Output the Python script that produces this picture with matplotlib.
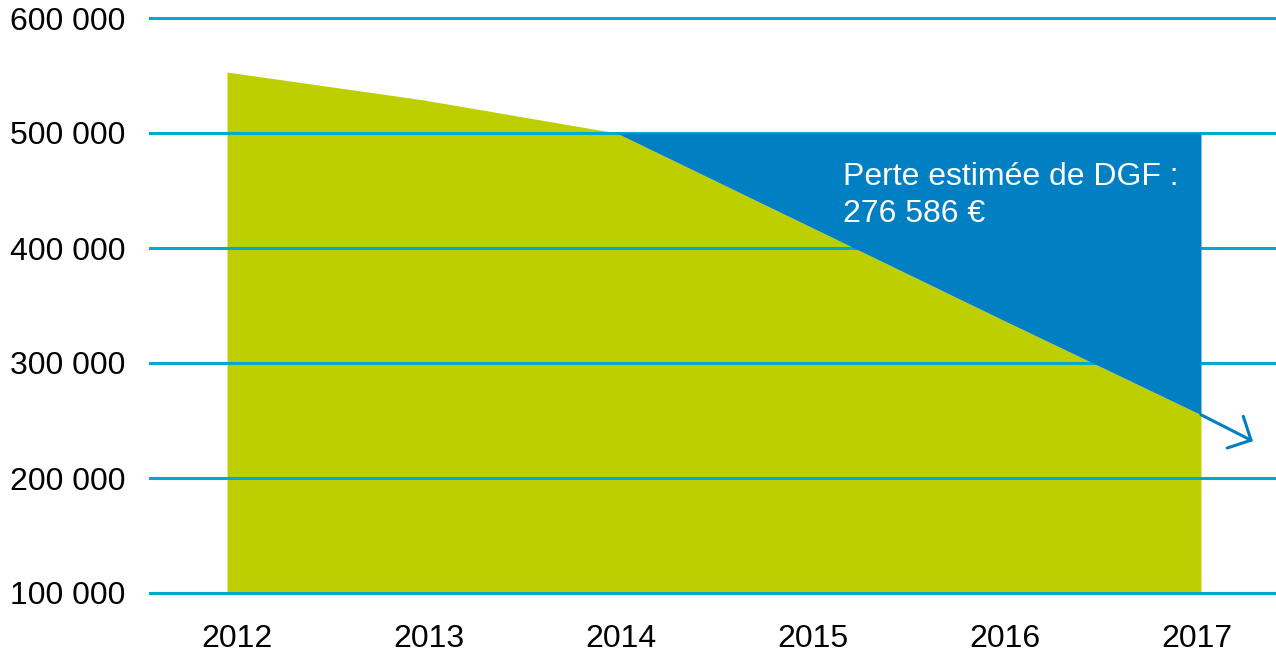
import matplotlib
matplotlib.use("Agg")
import matplotlib.pyplot as plt
import numpy as np

years = [2012, 2013, 2014, 2015, 2016, 2017]
dgf_values = [553000, 529000, 500000, 418000, 336000, 255000]
reference_level = 500000
y_ticks = [100000, 200000, 300000, 400000, 500000, 600000]
y_tick_labels = ["100 000", "200 000", "300 000", "400 000", "500 000", "600 000"]
x_tick_labels = ["2012", "2013", "2014", "2015", "2016", "2017"]
annotation_lines = ["Perte estimée de DGF :", "276 586 €"]

GREEN = "#BDCF00"
BLUE = "#0080C3"
GRID = "#00AACF"
FONT = "Liberation Sans"

plt.rcParams['font.family'] = [FONT, 'DejaVu Sans']

fig = plt.figure(figsize=(12.76, 6.55), dpi=100)
ax = fig.add_axes([150/1276, 1 - 593/655, 1 - 150/1276, (593 - 18)/655])

ax.set_xlim(2012 - 77/194.8, 2017 + 75/194.8)
ax.set_ylim(100000, 600000)

# green area (drawn below grid)
ax.fill_between(years, 100000, dgf_values, color=GREEN, linewidth=0, zorder=1)

# grid lines
for t in y_ticks:
    ax.axhline(t, color=GRID, lw=2.2, zorder=2, clip_on=False)

# blue loss area (above grid)
ax.fill_between(years[2:], dgf_values[2:], reference_level, color=BLUE, linewidth=0, zorder=3)

# arrow continuing the trend
ax.annotate("", xy=(2017 + 52/194.8, 232000), xytext=(years[-1], dgf_values[-1]),
            arrowprops=dict(arrowstyle="->,head_length=0.64,head_width=0.64",
                            color=BLUE, lw=2.2, shrinkA=0, shrinkB=0,
                            mutation_scale=20),
            annotation_clip=False, zorder=4)

# annotation text
ax.text(2015.162, 454800, annotation_lines[0], color="white", fontsize=23,
        ha="left", va="baseline", zorder=5)
ax.text(2015.162, 422900, annotation_lines[1], color="white", fontsize=23,
        ha="left", va="baseline", zorder=5)

ax.set_yticks(y_ticks)
ax.set_yticklabels(y_tick_labels)
# category labels are laid out slightly narrower than the data points
ax.set_xticks(np.linspace(years[0] + 0.05, years[-1] - 0.02, len(years)))
ax.set_xticklabels(x_tick_labels)
ax.tick_params(axis="both", length=0, labelsize=23, colors="black")
ax.tick_params(axis="y", pad=18)
ax.tick_params(axis="x", pad=22)
for s in ax.spines.values():
    s.set_visible(False)

fig.savefig("out.png", dpi=100)
